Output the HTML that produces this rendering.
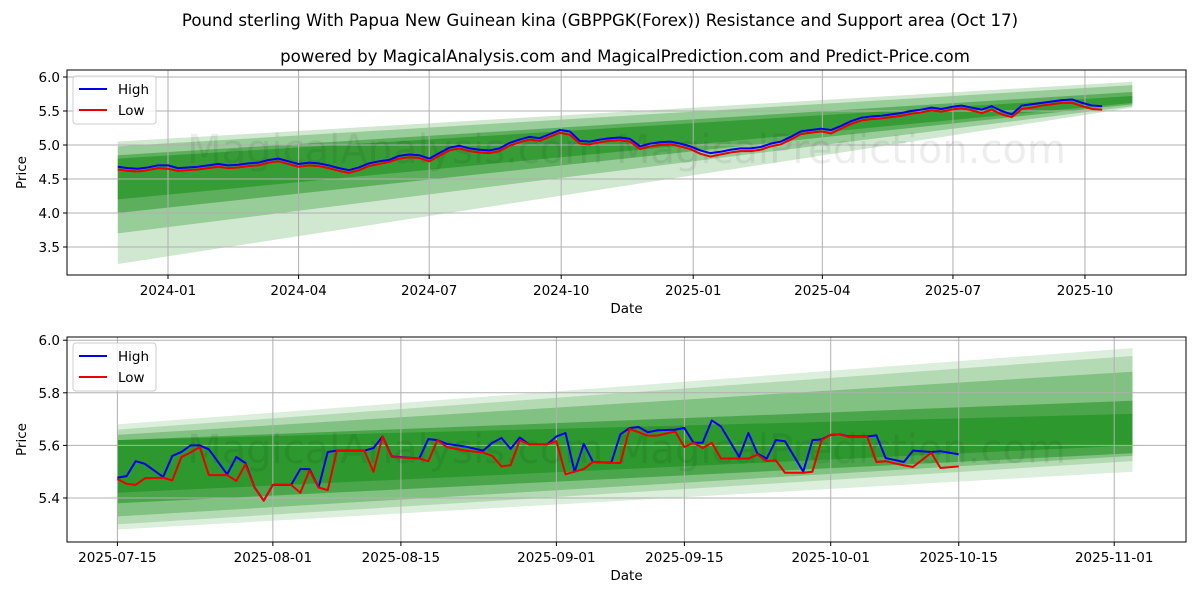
<!DOCTYPE html>
<html><head><meta charset="utf-8"><style>
body{margin:0;background:#fff;}
svg{font-family:"DejaVu Sans","Liberation Sans",sans-serif;}
</style></head><body>
<svg id="c" width="1200" height="600" viewBox="0 0 1200 600">
<rect width="1200" height="600" fill="#fff"/>
<text x="600" y="26" text-anchor="middle" font-size="16.6">Pound sterling With Papua New Guinean kina (GBPPGK(Forex)) Resistance and Support area (Oct 17)</text>
<text x="625" y="62" text-anchor="middle" font-size="16.6">powered by MagicalAnalysis.com and MagicalPrediction.com and Predict-Price.com</text>
<g id="top"></g>
<g id="bot"></g>
</svg>
<script>
// ---- top chart data (weekly samples, day offset from 2024-01-01) ----
const topStartDay = -35;
const topHigh = [4.68,4.66,4.65,4.67,4.70,4.70,4.66,4.67,4.68,4.70,4.72,4.70,4.71,4.73,4.74,4.78,4.80,4.76,4.72,4.74,4.73,4.70,4.66,4.63,4.67,4.73,4.76,4.78,4.84,4.86,4.85,4.80,4.88,4.96,4.99,4.95,4.93,4.92,4.95,5.03,5.08,5.12,5.10,5.16,5.22,5.20,5.06,5.05,5.08,5.10,5.11,5.09,4.98,5.02,5.04,5.05,5.02,4.98,4.92,4.88,4.90,4.93,4.95,4.95,4.97,5.02,5.05,5.12,5.20,5.22,5.24,5.22,5.28,5.35,5.40,5.42,5.43,5.45,5.47,5.50,5.52,5.55,5.53,5.56,5.58,5.55,5.52,5.57,5.50,5.45,5.58,5.60,5.62,5.64,5.66,5.67,5.62,5.58,5.57];
const topLow  = [4.64,4.62,4.61,4.63,4.66,4.65,4.62,4.63,4.64,4.66,4.68,4.66,4.67,4.69,4.70,4.74,4.76,4.72,4.68,4.70,4.69,4.66,4.62,4.59,4.63,4.69,4.72,4.75,4.80,4.82,4.81,4.76,4.84,4.92,4.95,4.91,4.89,4.88,4.91,4.99,5.04,5.08,5.06,5.12,5.18,5.15,5.02,5.01,5.04,5.06,5.07,5.05,4.94,4.98,5.00,5.01,4.98,4.94,4.87,4.83,4.86,4.89,4.91,4.91,4.93,4.98,5.01,5.08,5.16,5.18,5.20,5.17,5.24,5.31,5.36,5.38,5.39,5.41,5.43,5.46,5.48,5.51,5.49,5.52,5.54,5.51,5.47,5.52,5.45,5.41,5.53,5.55,5.58,5.60,5.62,5.62,5.57,5.53,5.52];
const topTickLabels = ["2024-01","2024-04","2024-07","2024-10","2025-01","2025-04","2025-07","2025-10"];
const topTickDays = [0,91,182,274,366,456,547,639];
const topYTicks = [3.5,4.0,4.5,5.0,5.5,6.0];
// bands: [upperStart, upperEnd, lowerStart, lowerEnd, opacity]
const topBands = [[5.05,5.93,3.25,5.55,0.2],[4.98,5.88,3.70,5.57,0.3],[4.85,5.78,4.00,5.60,0.45],[4.80,5.72,4.20,5.62,0.55]];
const topBandDays = [-35,672];

// ---- bottom chart data (day offset from 2025-07-15) ----
const botDays = [0,1,2,3,5,6,7,8,9,10,12,13,14,15,16,17,19,20,21,22,23,24,27,28,29,30,33,34,35,36,38,40,41,42,43,44,45,47,48,49,50,51,52,54,55,56,57,58,59,61,62,63,64,65,66,68,69,70,71,72,73,75,76,77,78,79,80,82,83,84,86,87,89,90,92];
const botHigh = [5.477,5.483,5.54,5.53,5.48,5.56,5.575,5.60,5.60,5.585,5.49,5.556,5.533,5.44,5.39,5.45,5.45,5.51,5.51,5.44,5.575,5.58,5.58,5.59,5.634,5.558,5.55,5.624,5.62,5.606,5.596,5.58,5.61,5.628,5.587,5.63,5.604,5.604,5.634,5.647,5.50,5.606,5.537,5.534,5.642,5.666,5.67,5.65,5.657,5.66,5.666,5.61,5.61,5.695,5.672,5.556,5.647,5.568,5.55,5.62,5.616,5.50,5.62,5.623,5.64,5.642,5.634,5.634,5.638,5.552,5.537,5.58,5.575,5.578,5.566];
const botLow  = [5.472,5.454,5.45,5.475,5.477,5.467,5.556,5.573,5.594,5.487,5.487,5.465,5.528,5.44,5.39,5.45,5.45,5.42,5.505,5.44,5.43,5.58,5.58,5.50,5.634,5.556,5.55,5.54,5.62,5.594,5.58,5.573,5.56,5.52,5.525,5.62,5.604,5.604,5.616,5.49,5.50,5.51,5.537,5.533,5.533,5.663,5.65,5.637,5.637,5.653,5.594,5.61,5.59,5.61,5.55,5.55,5.55,5.565,5.54,5.543,5.496,5.496,5.50,5.62,5.64,5.642,5.632,5.632,5.537,5.54,5.524,5.518,5.572,5.514,5.52];
const botTickLabels = ["2025-07-15","2025-08-01","2025-08-15","2025-09-01","2025-09-15","2025-10-01","2025-10-15","2025-11-01"];
const botTickDays = [0,17,31,48,62,78,92,109];
const botYTicks = [5.4,5.6,5.8,6.0];
const botBands = [[5.68,5.97,5.28,5.50,0.15],[5.66,5.94,5.30,5.54,0.2],[5.64,5.88,5.33,5.56,0.32],[5.62,5.77,5.38,5.57,0.5],[5.62,5.72,5.42,5.60,0.55]];
const botBandDays = [0,111];

const NS="http://www.w3.org/2000/svg";
function mk(parent,tag,attrs){const e=document.createElementNS(NS,tag);for(const k in attrs)e.setAttribute(k,attrs[k]);parent.appendChild(e);return e;}

function panel(g,cfg){
  const {L,R,T,B,x,y}=cfg;
  cfg.bands.forEach(b=>{
    const d0=cfg.bandDays[0],d1=cfg.bandDays[1];
    const p=mk(g,'polygon',{points:`${x(d0)},${y(b[0])} ${x(d1)},${y(b[1])} ${x(d1)},${y(b[3])} ${x(d0)},${y(b[2])}`,fill:'#168c16','fill-opacity':b[4]});
    
    
  });
  cfg.xTickDays.forEach((d,i)=>{
    mk(g,'line',{x1:x(d),x2:x(d),y1:T,y2:B,stroke:'#b0b0b0','stroke-width':1});
    mk(g,'line',{x1:x(d),x2:x(d),y1:B,y2:B+4,stroke:'#000'});
    const t=mk(g,'text',{x:x(d),y:B+20,'text-anchor':'middle','font-size':13.5});
    t.textContent=cfg.xTickLabels[i];
    
    
  });
  cfg.yTicks.forEach(v=>{
    mk(g,'line',{x1:L,x2:R,y1:y(v),y2:y(v),stroke:'#b0b0b0','stroke-width':1});
    mk(g,'line',{x1:L-4,x2:L,y1:y(v),y2:y(v),stroke:'#000'});
    const t=mk(g,'text',{x:L-7,y:y(v)+5,'text-anchor':'end','font-size':13.5});
    t.textContent=v.toFixed(1);
    
    
  });
  const w=mk(g,'text',{x:(L+R)/2,y:cfg.wmY,'text-anchor':'middle','font-size':40,fill:'#000','fill-opacity':0.07});
  w.textContent='MagicalAnalysis.com   MagicalPrediction.com';
  
  
  [[cfg.high,'#0000ee','high-line'],[cfg.low,'#ee0000','low-line']].forEach(s=>{
    const pts=s[0].map((v,i)=>`${x(cfg.days[i])},${y(v)}`).join(' ');
    const pl=mk(g,'polyline',{points:pts,fill:'none',stroke:s[1],'stroke-width':2,'stroke-linejoin':'round'});
    
    
  });
  mk(g,'rect',{x:L,y:T,width:R-L,height:B-T,fill:'none',stroke:'#000','stroke-width':1});
  const xl=mk(g,'text',{x:(L+R)/2,y:B+38,'text-anchor':'middle','font-size':13.5});
  xl.textContent='Date';
  
  
  const yl=mk(g,'text',{x:0,y:0,'text-anchor':'middle','font-size':13.5,transform:`translate(26,${(T+B)/2}) rotate(-90)`});
  yl.textContent='Price';
  
  
  const lg=mk(g,'g',{});
  
  
  mk(lg,'rect',{x:L+6,y:T+6,width:83,height:48,rx:3,fill:'#fff','fill-opacity':0.8,stroke:'#ccc'});
  [['High','#0000ee',T+19],['Low','#ee0000',T+40]].forEach(e=>{
    mk(lg,'line',{x1:L+12,x2:L+40,y1:e[2],y2:e[2],stroke:e[1],'stroke-width':2});
    const t=mk(lg,'text',{x:L+51,y:e[2]+5,'font-size':13.5});
    t.textContent=e[0];
    
    
  });
}

const tDays=topHigh.map((_,i)=>topStartDay+7*i);
panel(document.getElementById('top'),{L:67,R:1186,T:70,B:275,
  x:d=>168+d*1.435, y:v=>77+(6.0-v)*68,
  bands:topBands,bandDays:topBandDays,xTickDays:topTickDays,xTickLabels:topTickLabels,yTicks:topYTicks,
  days:tDays,high:topHigh,low:topLow,wmY:163});
panel(document.getElementById('bot'),{L:67,R:1186,T:337,B:542,
  x:d=>117.4+d*9.145, y:v=>498-(v-5.4)*263,
  bands:botBands,bandDays:botBandDays,xTickDays:botTickDays,xTickLabels:botTickLabels,yTicks:botYTicks,
  days:botDays,high:botHigh,low:botLow,wmY:463});
</script>
</body></html>
